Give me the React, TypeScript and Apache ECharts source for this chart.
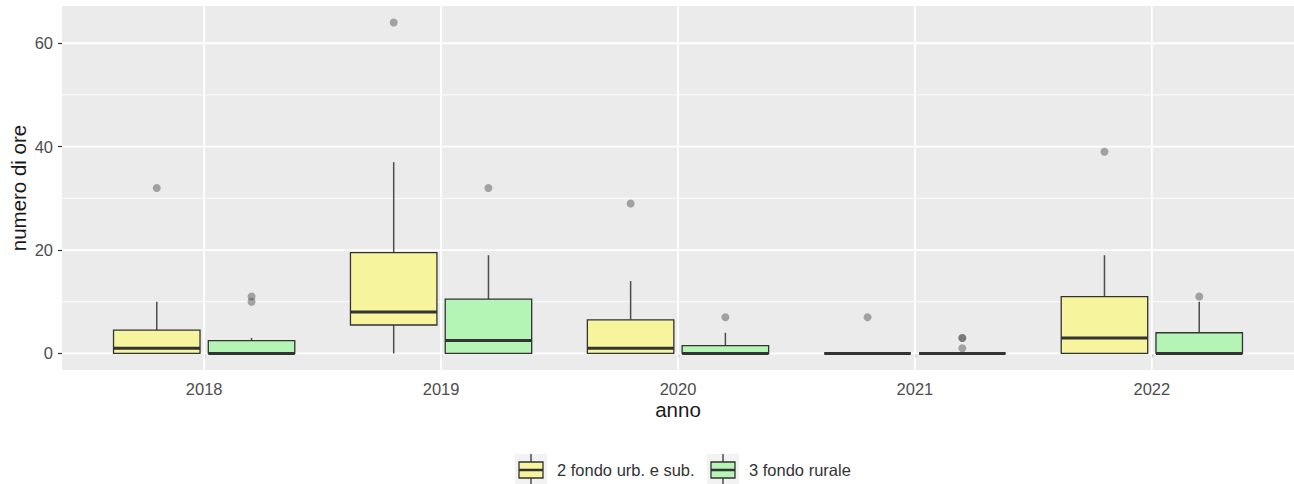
import React, { useEffect, useRef } from "react";
import * as echarts from "echarts";

// Years on the x axis
const years = ["2018", "2019", "2020", "2021", "2022"];

// Box statistics per year: [lower whisker, Q1, median, Q3, upper whisker]
const urbanBoxes = [
  [0, 0, 1, 4.5, 10],
  [0, 5.5, 8, 19.5, 37],
  [0, 0, 1, 6.5, 14],
  [0, 0, 0, 0, 0],
  [0, 0, 3, 11, 19],
];
const ruralBoxes = [
  [0, 0, 0, 2.5, 3],
  [0, 0, 2.5, 10.5, 19],
  [0, 0, 0, 1.5, 4],
  [0, 0, 0, 0, 0],
  [0, 0, 0, 4, 10],
];

// Outlying values per year
const urbanOutliers = [[32], [64], [29], [7], [39]];
const ruralOutliers = [[10, 11], [32], [7], [1, 3, 3], [11]];

// Axis ticks
const yTicks = [0, 20, 40, 60];
const yMinor = [10, 30, 50];
const xTicks = [1, 2, 3, 4, 5];

const seriesNames = ["2 fondo urb. e sub.", "3 fondo rurale"];
const fills = ["#F6F49D", "#B4F4B4"];

const DODGE = 0.2;
const BOX_W = 0.365;
const FONT = "'Liberation Sans', Arial, Helvetica, sans-serif";

function boxSeries(name: string, boxes: number[][], offset: number, fill: string) {
  return {
    type: "custom",
    name,
    z: 3,
    data: boxes.map((b, i) => [i + 1 + offset, ...b]),
    encode: { x: 0, y: [1, 2, 3, 4, 5] },
    renderItem: (_params: any, api: any) => {
      const x = api.value(0);
      const low = api.coord([x, api.value(1)]);
      const q1 = api.coord([x, api.value(2)]);
      const med = api.coord([x, api.value(3)]);
      const q3 = api.coord([x, api.value(4)]);
      const high = api.coord([x, api.value(5)]);
      const half = api.size([BOX_W, 0])[0] / 2;
      const stroke = { stroke: "#333333", lineWidth: 1.3 };
      return {
        type: "group",
        children: [
          { type: "line", shape: { x1: q3[0], y1: q3[1], x2: high[0], y2: high[1] }, style: { stroke: "#4d4d4d", lineWidth: 1.5 } },
          { type: "line", shape: { x1: low[0], y1: low[1], x2: q1[0], y2: q1[1] }, style: { stroke: "#4d4d4d", lineWidth: 1.5 } },
          {
            type: "rect",
            shape: { x: q1[0] - half, y: q3[1], width: half * 2, height: q1[1] - q3[1] },
            style: { fill, ...stroke },
          },
          { type: "line", shape: { x1: med[0] - half, y1: med[1], x2: med[0] + half, y2: med[1] }, style: { stroke: "#333333", lineWidth: 3 } },
        ],
      };
    },
  };
}

function outlierSeries(name: string, outs: number[][], offset: number) {
  const pts: number[][] = [];
  outs.forEach((vals, i) => vals.forEach((v) => pts.push([i + 1 + offset, v])));
  return {
    type: "scatter",
    name: name + " outliers",
    z: 4,
    symbol: "circle",
    symbolSize: 8,
    itemStyle: { color: "rgba(80,80,80,0.6)" },
    data: pts,
  };
}

// Panel grid lines: [orientation (0 = horizontal, 1 = vertical), value, width]
const gridData = [
  ...yMinor.map((v) => [0, v, 0.9]),
  ...yTicks.map((v) => [0, v, 1.8]),
  ...xTicks.map((v) => [1, v, 1.8]),
];

function legendGraphic() {
  const items: any[] = [];
  const keys = [
    { x: 515, textX: 557 },
    { x: 707, textX: 749 },
  ];
  keys.forEach((k, i) => {
    const cx = k.x + 16;
    items.push(
      { type: "rect", shape: { x: k.x, y: 454, width: 32, height: 32 }, style: { fill: "#F2F2F2" } },
      { type: "line", shape: { x1: cx, y1: 454, x2: cx, y2: 462 }, style: { stroke: "#4d4d4d", lineWidth: 1.5 } },
      { type: "line", shape: { x1: cx, y1: 478, x2: cx, y2: 486 }, style: { stroke: "#4d4d4d", lineWidth: 1.5 } },
      { type: "rect", shape: { x: k.x + 4, y: 462, width: 24, height: 16 }, style: { fill: fills[i], stroke: "#333333", lineWidth: 1.3 } },
      { type: "line", shape: { x1: k.x + 4, y1: 470, x2: k.x + 28, y2: 470 }, style: { stroke: "#333333", lineWidth: 2.5 } },
      {
        type: "text",
        x: k.textX,
        y: 470,
        style: { text: seriesNames[i], fill: "#333333", fontSize: 16.5, fontFamily: FONT, verticalAlign: "middle", align: "left" },
      }
    );
  });
  return items;
}

export default function App() {
  const ref = useRef<HTMLDivElement>(null);

  useEffect(() => {
    if (!ref.current) return;
    const chart = echarts.init(ref.current, undefined, { renderer: "svg" });
    chart.setOption({
      animation: false,
      backgroundColor: "#ffffff",
      grid: {
        left: 62,
        top: 6,
        right: 0,
        height: 364,
        containLabel: false,
        outerBoundsMode: "none",
        show: true,
        backgroundColor: "#EBEBEB",
        borderWidth: 0,
      },
      xAxis: {
        type: "value",
        min: 0.4,
        max: 5.6,
        name: "anno",
        nameLocation: "middle",
        nameGap: 29,
        nameMoveOverlap: false,
        nameTextStyle: { fontSize: 20.5, color: "#1a1a1a", fontFamily: FONT },
        axisLine: { show: false },
        splitLine: { show: false },
        axisTick: { show: true, customValues: xTicks, length: 4, lineStyle: { color: "#333333", width: 1.2 } },
        axisLabel: {
          customValues: xTicks,
          formatter: (v: number) => years[Math.round(v) - 1] ?? "",
          color: "#4d4d4d",
          fontSize: 16.5,
          fontFamily: FONT,
          margin: 10,
        },
      },
      yAxis: {
        type: "value",
        min: -3.2,
        max: 67.2,
        name: "numero di ore",
        nameLocation: "middle",
        nameGap: 33,
        nameMoveOverlap: false,
        nameTextStyle: { fontSize: 20.5, color: "#1a1a1a", fontFamily: FONT },
        axisLine: { show: false },
        splitLine: { show: false },
        axisTick: { show: true, customValues: yTicks, length: 4, lineStyle: { color: "#333333", width: 1.2 } },
        axisLabel: {
          customValues: yTicks,
          color: "#4d4d4d",
          fontSize: 16.5,
          fontFamily: FONT,
          margin: 9,
        },
      },
      series: [
        {
          type: "custom",
          name: "grid",
          z: 1,
          silent: true,
          data: gridData,
          encode: { x: -1, y: -1 },
          renderItem: (params: any, api: any) => {
            const cs = params.coordSys;
            const orient = api.value(0);
            const v = api.value(1);
            const w = api.value(2);
            if (orient === 0) {
              const y = api.coord([1, v])[1];
              return { type: "line", shape: { x1: cs.x, y1: y, x2: cs.x + cs.width, y2: y }, style: { stroke: "#ffffff", lineWidth: w } };
            }
            const x = api.coord([v, 0])[0];
            return { type: "line", shape: { x1: x, y1: cs.y, x2: x, y2: cs.y + cs.height }, style: { stroke: "#ffffff", lineWidth: w } };
          },
        },
        boxSeries(seriesNames[0], urbanBoxes, -DODGE, fills[0]),
        boxSeries(seriesNames[1], ruralBoxes, DODGE, fills[1]),
        outlierSeries(seriesNames[0], urbanOutliers, -DODGE),
        outlierSeries(seriesNames[1], ruralOutliers, DODGE),
      ],
      graphic: legendGraphic(),
    });
    return () => chart.dispose();
  }, []);

  return (
    <div
      ref={ref}
      style={{ position: "fixed", left: 0, top: 0, width: 1294, height: 484 }}
    />
  );
}
